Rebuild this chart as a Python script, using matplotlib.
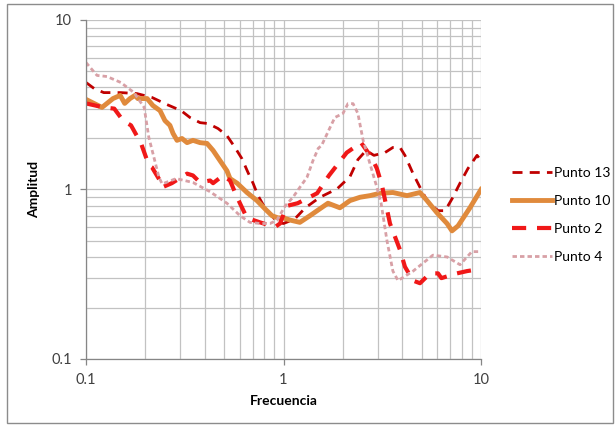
import matplotlib
matplotlib.use("Agg")
import matplotlib.pyplot as plt
from matplotlib.patches import Rectangle
from matplotlib.ticker import FixedLocator, FixedFormatter, NullFormatter, LogLocator

plt.rcParams['font.family'] = ['Lato', 'DejaVu Sans']

# Punto 13
f13 = [0.100, 0.110, 0.123, 0.150, 0.181, 0.216, 0.257, 0.303, 0.336, 0.378, 0.415, 0.466,
       0.517, 0.568, 0.616, 0.661, 0.701, 0.743, 0.805, 0.875, 0.927, 1.00, 1.14, 1.29, 1.53,
       1.87, 2.17, 2.38, 2.62, 2.87, 3.26, 3.58, 3.89, 4.12, 4.53, 4.91, 5.39, 6.06, 6.58,
       7.13, 7.83, 8.59, 9.55, 10.0]
a13 = [4.28, 3.94, 3.73, 3.73, 3.68, 3.49, 3.17, 2.92, 2.66, 2.48, 2.45, 2.29,
       2.08, 1.77, 1.52, 1.26, 1.09, 0.92, 0.78, 0.70, 0.64, 0.63, 0.67, 0.78, 0.90,
       1.01, 1.19, 1.50, 1.70, 1.59, 1.65, 1.77, 1.77, 1.59, 1.24, 1.03, 0.84, 0.75, 0.75,
       0.88, 1.09, 1.33, 1.59, 1.48]

# Punto 10
f10 = [0.100, 0.1205, 0.137, 0.149, 0.157, 0.167, 0.177, 0.183, 0.204, 0.218, 0.237, 0.251,
       0.266, 0.276, 0.289, 0.306, 0.325, 0.348, 0.378, 0.410, 0.440, 0.477, 0.517, 0.536,
       0.582, 0.653, 0.734, 0.805, 0.875, 0.938, 1.00, 1.08, 1.21, 1.36, 1.53, 1.68, 1.93,
       2.17, 2.44, 2.74, 3.08, 3.58, 4.22, 4.91, 5.33, 5.98, 6.73, 7.13, 7.65, 8.79, 10.0]
a10 = [3.40, 3.05, 3.44, 3.59, 3.22, 3.44, 3.59, 3.44, 3.44, 3.13, 2.92, 2.55,
       2.39, 2.14, 1.95, 2.00, 1.89, 1.95, 1.89, 1.87, 1.70, 1.48, 1.29, 1.16,
       1.09, 0.96, 0.86, 0.77, 0.70, 0.68, 0.68, 0.66, 0.64, 0.70, 0.77, 0.83, 0.78,
       0.86, 0.90, 0.92, 0.95, 0.96, 0.92, 0.96, 0.86, 0.73, 0.63, 0.57, 0.61, 0.78, 1.00]

# Punto 2
f2 = [0.100, 0.123, 0.139, 0.150, 0.160, 0.169, 0.190, 0.208, 0.216, 0.240, 0.243, 0.272,
      0.325, 0.348, 0.378, 0.425, 0.440, 0.494, 0.536, 0.582, 0.653, 0.760, 0.906, 0.96,
      1.04, 1.18, 1.48, 1.70, 2.09, 2.47, 2.80, 2.97, 3.15, 3.46, 3.89, 4.12, 4.53, 4.91,
      5.52, 6.06, 6.30, 7.55, 8.49, 10.0]
a2 = [3.22, 3.05, 3.00, 2.66, 2.48, 2.39, 1.87, 1.39, 1.35, 1.10, 1.03, 1.09,
      1.24, 1.21, 1.10, 1.13, 1.09, 1.21, 1.13, 0.90, 0.68, 0.64, 0.60, 0.63,
      0.80, 0.83, 0.95, 1.21, 1.65, 1.89, 1.54, 1.33, 1.06, 0.63, 0.44, 0.35, 0.29, 0.28,
      0.32, 0.32, 0.30, 0.32, 0.33, 0.34]

# Punto 4
f4 = [0.100, 0.1137, 0.1277, 0.150, 0.175, 0.197, 0.208, 0.221, 0.234, 0.243, 0.254, 0.286,
      0.348, 0.425, 0.517, 0.603, 0.676, 0.760, 0.855, 0.927, 1.02, 1.117, 1.21, 1.315,
      1.41, 1.50, 1.56, 1.72, 1.82, 2.00, 2.12, 2.25, 2.38, 2.53, 2.74, 2.97, 3.12, 3.34,
      3.58, 3.80, 4.53, 5.71, 6.73, 7.83, 8.99, 10.0]
a4 = [5.61, 4.71, 4.64, 4.28, 3.73, 3.05, 2.03, 1.54, 1.18, 1.08, 1.10, 1.16,
      1.10, 0.97, 0.83, 0.70, 0.64, 0.63, 0.63, 0.66, 0.80, 0.90, 1.03, 1.18,
      1.48, 1.75, 1.82, 2.32, 2.66, 2.81, 3.21, 3.21, 2.81, 1.95, 1.42, 1.03, 0.83, 0.50,
      0.33, 0.29, 0.33, 0.41, 0.40, 0.36, 0.43, 0.43]

fig = plt.figure(figsize=(6.15, 4.26), dpi=100)
ax = fig.add_axes([86/615, 1 - 359/426, (481 - 86)/615, (359 - 20)/426])

ax.plot(f13, a13, color='#C00000', lw=2.0, dashes=(3.6, 2.6), label='Punto 13')
ax.plot(f10, a10, color='#E08A3C', lw=3.5, label='Punto 10')
ax.plot(f2, a2, color='#F01818', lw=3.0, dashes=(3.4, 2.6), label='Punto 2')
ax.plot(f4, a4, color='#D8A0A6', lw=2.0, dashes=(1.6, 1.1), label='Punto 4')

ax.set_xscale('log')
ax.set_yscale('log')
ax.set_xlim(0.1, 10)
ax.set_ylim(0.1, 10)

ax.xaxis.set_major_locator(FixedLocator([0.1, 1, 10]))
ax.xaxis.set_major_formatter(FixedFormatter(['0.1', '1', '10']))
ax.yaxis.set_major_locator(FixedLocator([0.1, 1, 10]))
ax.yaxis.set_major_formatter(FixedFormatter(['0.1', '1', '10']))
for a in (ax.xaxis, ax.yaxis):
    a.set_minor_locator(LogLocator(base=10, subs=range(2, 10)))
    a.set_minor_formatter(NullFormatter())

ax.grid(True, which='both', color='#C2C2C2', lw=0.9)
ax.set_axisbelow(True)
ax.tick_params(which='major', length=4, width=0.9, color='#868686',
               labelsize=10.5, labelcolor='#404040', pad=6)
ax.tick_params(which='minor', length=0)
for s in ('top', 'right'):
    ax.spines[s].set_visible(False)
for s in ('left', 'bottom'):
    ax.spines[s].set_color('#868686')
    ax.spines[s].set_linewidth(0.9)

ax.set_xlabel('Frecuencia', fontsize=10, fontweight='bold', labelpad=6)
ax.set_ylabel('Amplitud', fontsize=10, fontweight='bold', labelpad=8)

leg = ax.legend(loc='center left', bbox_to_anchor=(1.047, 0.425), frameon=False,
                fontsize=10, handlelength=2.9, handletextpad=0.15, labelspacing=1.15)

fig.patches.append(Rectangle((7/615, 3/426), 606/615, 419/426, transform=fig.transFigure,
                             fill=False, edgecolor='#8C8C8C', lw=1.0))

fig.savefig('out.png', dpi=100)
